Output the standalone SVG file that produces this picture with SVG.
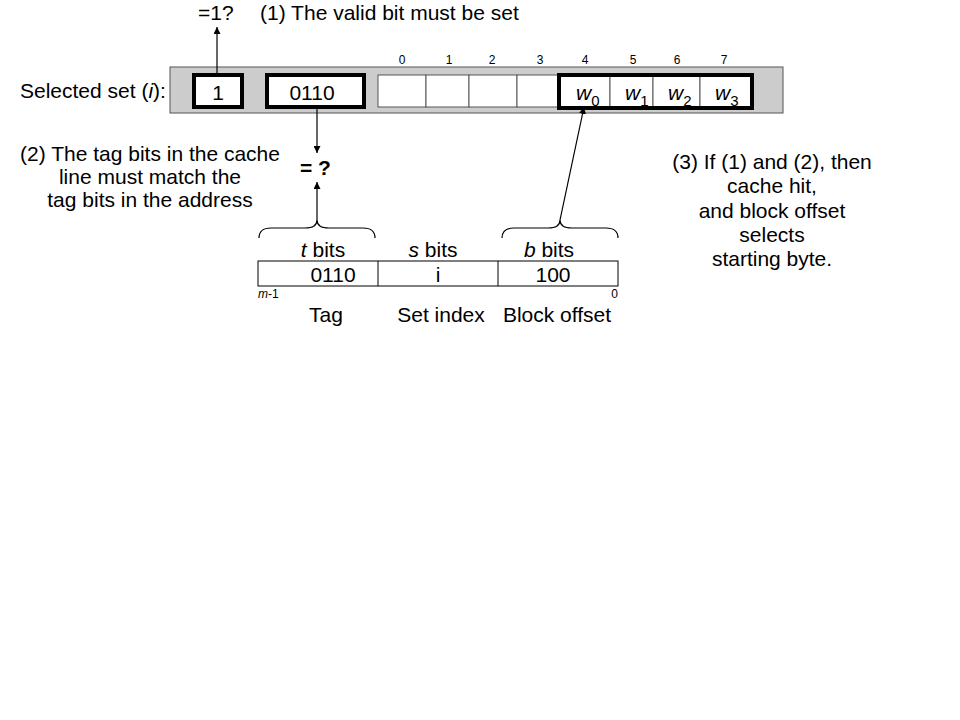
<svg xmlns="http://www.w3.org/2000/svg" width="960" height="720" viewBox="0 0 960 720">
<defs>
<marker id="ah" viewBox="0 0 10 10" refX="10" refY="5" markerWidth="7" markerHeight="7" markerUnits="userSpaceOnUse" orient="auto">
<path d="M0,0 L10,5 L0,10 z" fill="#000"/>
</marker>
<style>
text{font-family:"Liberation Sans",Arial,Helvetica,sans-serif;font-size:21px;fill:#000}
.sm{font-size:12px}
.it{font-style:italic}
.cell{fill:#fff;stroke:#555;stroke-width:1}
.thick{fill:none;stroke:#000;stroke-width:4}
.conn{stroke:#000;stroke-width:1.2;fill:none}
.brace{stroke:#000;stroke-width:1.2;fill:none}
</style>
</defs>
<rect width="960" height="720" fill="#fff"/>

<g id="selected-set">
<text x="20" y="98">Selected set (<tspan class="it">i</tspan>):</text>
<rect x="170" y="67" width="613" height="46" fill="#cccccc" stroke="#555" stroke-width="1"/>
</g>

<g id="valid-bit">
<rect x="194" y="75" width="48" height="32" fill="#fff"/>
<text x="218" y="100" text-anchor="middle">1</text>
<rect x="194" y="75" width="48" height="32" class="thick"/>
</g>

<g id="tag-cache">
<rect x="267" y="75" width="97" height="32" fill="#fff"/>
<text x="312" y="100" text-anchor="middle">0110</text>
<rect x="267" y="75" width="97" height="32" class="thick"/>
</g>

<g id="block">
<rect x="378" y="75" width="48" height="32" class="cell"/>
<rect x="426" y="75" width="43" height="32" class="cell"/>
<rect x="469" y="75" width="48" height="32" class="cell"/>
<rect x="517" y="75" width="42" height="32" class="cell"/>
<rect x="559" y="75" width="51" height="32" class="cell"/>
<rect x="610" y="75" width="43" height="32" class="cell"/>
<rect x="653" y="75" width="47" height="32" class="cell"/>
<rect x="700" y="75" width="52" height="32" class="cell"/>
<text class="sm" x="402" y="64" text-anchor="middle">0</text>
<text class="sm" x="449" y="64" text-anchor="middle">1</text>
<text class="sm" x="492" y="64" text-anchor="middle">2</text>
<text class="sm" x="540" y="64" text-anchor="middle">3</text>
<text class="sm" x="585" y="64" text-anchor="middle">4</text>
<text class="sm" x="633" y="64" text-anchor="middle">5</text>
<text class="sm" x="677" y="64" text-anchor="middle">6</text>
<text class="sm" x="724" y="64" text-anchor="middle">7</text>
<text x="576" y="100"><tspan class="it">w</tspan><tspan font-size="15" dy="6">0</tspan></text>
<text x="625" y="100"><tspan class="it">w</tspan><tspan font-size="15" dy="6">1</tspan></text>
<text x="668" y="100"><tspan class="it">w</tspan><tspan font-size="15" dy="6">2</tspan></text>
<text x="715" y="100"><tspan class="it">w</tspan><tspan font-size="15" dy="6">3</tspan></text>
<rect x="559" y="75" width="193" height="33" class="thick"/>
</g>

<g id="note1">
<text x="198" y="20">=1?</text>
<text x="260" y="20">(1) The valid bit must be set</text>
</g>

<g id="note2">
<text x="150" y="161" text-anchor="middle">(2) The tag bits in the cache</text>
<text x="150" y="184" text-anchor="middle">line must match the</text>
<text x="150" y="207" text-anchor="middle">tag bits in the address</text>
</g>

<g id="compare">
<text x="300" y="175" font-weight="bold">= ?</text>
</g>

<g id="note3">
<text x="772" y="169" text-anchor="middle">(3) If (1) and (2), then</text>
<text x="772" y="193" text-anchor="middle">cache hit,</text>
<text x="772" y="218" text-anchor="middle">and block offset</text>
<text x="772" y="242" text-anchor="middle">selects</text>
<text x="772" y="266" text-anchor="middle">starting byte.</text>
</g>

<g id="address">
<rect x="258" y="261" width="360" height="25" fill="#fff" stroke="#000" stroke-width="1"/>
<line x1="378" y1="261" x2="378" y2="286" stroke="#000" stroke-width="1"/>
<line x1="498" y1="261" x2="498" y2="286" stroke="#000" stroke-width="1"/>
<text x="333" y="282" text-anchor="middle">0110</text>
<text x="438" y="282" text-anchor="middle">i</text>
<text x="553" y="282" text-anchor="middle">100</text>
<text x="323" y="257" text-anchor="middle"><tspan class="it">t</tspan> bits</text>
<text x="433" y="257" text-anchor="middle"><tspan class="it">s</tspan> bits</text>
<text x="549" y="257" text-anchor="middle"><tspan class="it">b</tspan> bits</text>
<text class="sm" x="258" y="298"><tspan class="it">m</tspan>-1</text>
<text class="sm" x="618" y="298" text-anchor="end">0</text>
<text x="326" y="322" text-anchor="middle">Tag</text>
<text x="441" y="322" text-anchor="middle">Set index</text>
<text x="557" y="322" text-anchor="middle">Block offset</text>
<path class="brace" d="M259,238 Q259,228 271,228 L305,228 Q317,228 317,220 Q317,228 329,228 L363,228 Q375,228 375,238"/>
<path class="brace" d="M502,238 Q502,228 514,228 L548,228 Q560,228 560,220 Q560,228 572,228 L606,228 Q618,228 618,238"/>
</g>

<g id="connectors">
<line class="conn" x1="217" y1="75" x2="217" y2="27" marker-end="url(#ah)"/>
<line class="conn" x1="317" y1="107" x2="317" y2="153" marker-end="url(#ah)"/>
<line class="conn" x1="317" y1="220" x2="317" y2="182" marker-end="url(#ah)"/>
<line class="conn" x1="560" y1="220" x2="584" y2="107" marker-end="url(#ah)"/>
</g>
</svg>
